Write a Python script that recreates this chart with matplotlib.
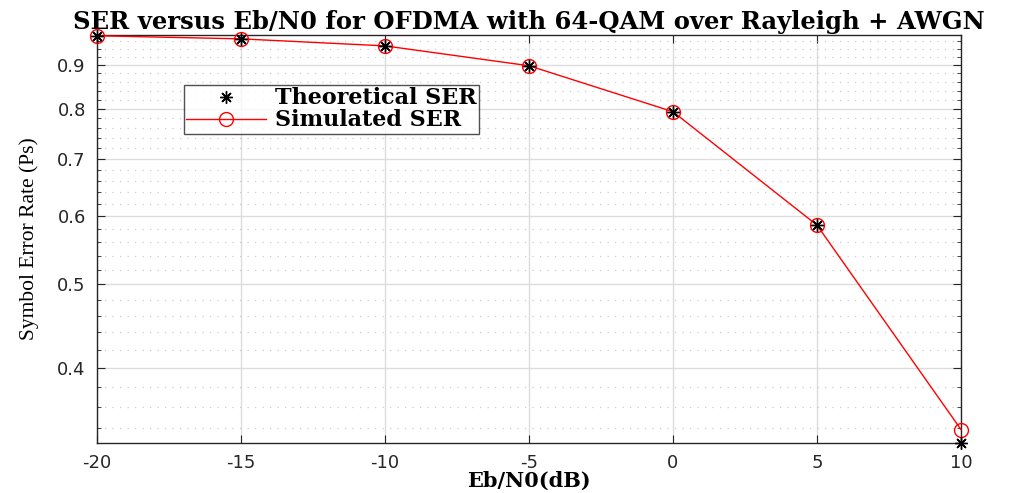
import numpy as np
import matplotlib.pyplot as plt
from matplotlib.ticker import FixedLocator, NullFormatter

# Values
ebn0_db = [-20, -15, -10, -5, 0, 5, 10]
ser_theory = [0.973, 0.965, 0.947, 0.898, 0.794, 0.586, 0.327]
ser_sim = [0.973, 0.965, 0.947, 0.898, 0.794, 0.586, 0.339]

y_major = [0.4, 0.5, 0.6, 0.7, 0.8, 0.9]
y_minor = [0.34, 0.36, 0.38, 0.42, 0.44, 0.46, 0.48, 0.52, 0.54, 0.56, 0.58,
           0.62, 0.64, 0.66, 0.68, 0.72, 0.74, 0.76, 0.78,
           0.82, 0.84, 0.86, 0.88, 0.92, 0.94, 0.96]
x_ticks = [-20, -15, -10, -5, 0, 5, 10]

fig = plt.figure(figsize=(10.12, 4.93), dpi=100)
ax = fig.add_axes([0.0958, 0.1014, 0.8538, 0.8276])

# MATLAB-style '*' marker: 8 arms
ast = (8, 2, 0)
ax.semilogy(ebn0_db, ser_theory, color='k', linestyle='none', marker=ast,
            markersize=9, markeredgewidth=1.0, clip_on=False, zorder=4,
            label='Theoretical SER')
ax.semilogy(ebn0_db, ser_sim, 'r-o', markersize=10, markerfacecolor='none',
            linewidth=1.0, markeredgewidth=1.0, clip_on=False, zorder=3,
            label='Simulated SER')

ax.set_xlim(-20, 10)
ax.set_ylim(0.327, 0.975)

ax.set_xticks(x_ticks)
ax.set_xticklabels([str(v) for v in x_ticks])
ax.yaxis.set_major_locator(FixedLocator(y_major))
ax.set_yticklabels([str(v) for v in y_major])
ax.yaxis.set_minor_locator(FixedLocator(y_minor))
ax.yaxis.set_minor_formatter(NullFormatter())
ax.xaxis.set_minor_locator(FixedLocator([]))

ax.grid(True, which='major', color='#dcdcdc', linewidth=1.0, linestyle='-')
ax.grid(True, which='minor', axis='y', color='#cccccc', linewidth=0.9,
        linestyle=(0, (1, 5)))
ax.set_axisbelow(True)

for s in ax.spines.values():
    s.set_color('#262626')
    s.set_linewidth(1.0)
ax.tick_params(which='both', direction='in', right=True, top=True,
               colors='#262626', labelsize=13, pad=8)
ax.tick_params(which='major', length=6)
ax.tick_params(which='minor', length=3)
for lab in ax.get_xticklabels() + ax.get_yticklabels():
    lab.set_family('DejaVu Sans')
    lab.set_color('#262626')

ax.set_title('SER versus Eb/N0 for OFDMA with 64-QAM over Rayleigh + AWGN',
             family='DejaVu Serif', fontweight='bold', fontsize=17.5, pad=4)
ax.set_xlabel('Eb/N0(dB)', family='DejaVu Serif', fontweight='bold',
              fontsize=15, labelpad=-1)
ax.set_ylabel('Symbol Error Rate (Ps)', family='Liberation Serif',
              fontsize=15.5, labelpad=13)

leg = ax.legend(loc='upper left', bbox_to_anchor=(0.1007, 0.877),
                prop={'family': 'DejaVu Serif', 'weight': 'bold', 'size': 16},
                frameon=True, fancybox=False, edgecolor='#262626',
                borderpad=0.1, labelspacing=0.0, handlelength=3.6,
                handletextpad=0.4, borderaxespad=0)
leg.get_frame().set_linewidth(1.0)

fig.savefig('out.png', dpi=100)
